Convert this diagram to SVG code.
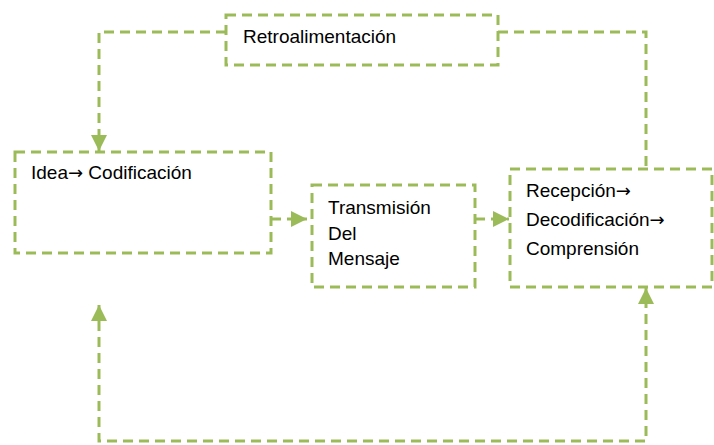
<svg xmlns="http://www.w3.org/2000/svg" width="714" height="445" viewBox="0 0 714 445">
<style>
.box{fill:#fff;stroke:#9BBB59;stroke-width:3;stroke-dasharray:10 6}
.con{fill:none;stroke:#9BBB59;stroke-width:3;stroke-dasharray:10 6}
text{font-family:"Liberation Sans",Arial,sans-serif;font-size:19px;fill:#000}
.ar{font-family:"DejaVu Sans",sans-serif;font-size:18px}
</style>
<defs>
<marker id="ah" viewBox="0 0 10 10" refX="10" refY="5" markerUnits="userSpaceOnUse" markerWidth="16" markerHeight="17" orient="auto-start-reverse">
<path d="M0,0 L10,5 L0,10 z" fill="#9BBB59"/>
</marker>
</defs>
<rect width="714" height="445" fill="#fff"/>
<g id="connectors">
<path class="con" d="M226,32 H99 V151" marker-end="url(#ah)"/>
<path class="con" d="M498,32 H646 V169"/>
<path class="con" d="M271,219 H307" marker-end="url(#ah)"/>
<path class="con" d="M475,219 H509" marker-end="url(#ah)"/>
<path class="con" d="M99,305 V441 H646 V288" marker-start="url(#ah)" marker-end="url(#ah)"/>
</g>
<g id="retro">
<rect class="box" x="226" y="15" width="272" height="50"/>
<text x="243" y="43">Retroalimentación</text>
</g>
<g id="idea">
<rect class="box" x="15" y="152" width="256" height="101"/>
<text x="31" y="179">Idea<tspan class="ar">→</tspan> Codificación</text>
</g>
<g id="transmision">
<rect class="box" x="312" y="185" width="163" height="102"/>
<text x="328" y="214">Transmisión</text>
<text x="328" y="240">Del</text>
<text x="328" y="265">Mensaje</text>
</g>
<g id="recepcion">
<rect class="box" x="510" y="169" width="202" height="118"/>
<text x="526" y="197">Recepción<tspan class="ar">→</tspan></text>
<text x="526" y="226">Decodificación<tspan class="ar">→</tspan></text>
<text x="526" y="255">Comprensión</text>
</g>
</svg>
